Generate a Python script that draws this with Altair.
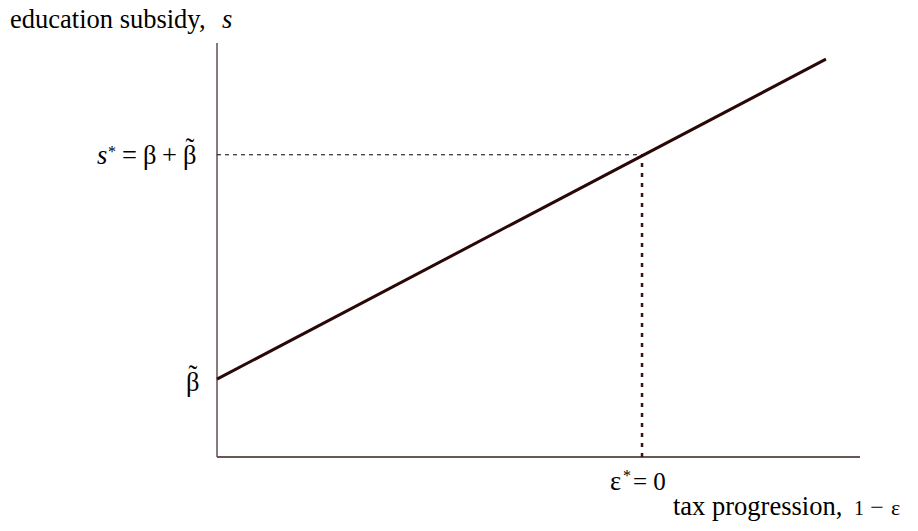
import altair as alt
import pandas as pd

# ---- data ----
line_x = [0.0, 9.47]          # tax progression, 1 - eps
line_y = [1.88, 9.61]         # education subsidy, s
beta_tilde = 1.88             # intercept
eps_star = 6.61               # x position of eps* = 0
s_star = 7.30                 # s* = beta + beta~
x_axis_end = 10.0
y_axis_top = 10.0

FONT = "'Liberation Serif', 'Times New Roman', Times, serif"
FS = 26.5
W, H = 902, 515
xs = alt.Scale(domain=[-3.2504, 10.7776], nice=False, zero=False)
ys = alt.Scale(domain=[-1.5942, 10.8454], nice=False, zero=False)

def X(f="x"):
    return alt.X(f"{f}:Q", scale=xs, axis=None)

def Y(f="y"):
    return alt.Y(f"{f}:Q", scale=ys, axis=None)

line_df = pd.DataFrame({"x": line_x, "y": line_y})
yaxis_df = pd.DataFrame({"x": [0.0], "y": [0.0], "y2": [y_axis_top]})
xaxis_df = pd.DataFrame({"x": [0.0], "x2": [x_axis_end], "y": [0.0]})
hdash_df = pd.DataFrame({"x": [0.0], "x2": [eps_star], "y": [s_star]})
vdot_df = pd.DataFrame({"x": [eps_star], "y": [0.0], "y2": [s_star]})

yaxis = alt.Chart(yaxis_df).mark_rule(color="#8a7b7b", strokeWidth=2).encode(
    x=X(), y=Y(), y2="y2:Q")
xaxis = alt.Chart(xaxis_df).mark_rule(color="#6b5656", strokeWidth=2).encode(
    x=X(), x2="x2:Q", y=Y())
hdash = alt.Chart(hdash_df).mark_rule(color="#000000", strokeWidth=1, strokeDash=[4, 4]).encode(
    x=X(), x2="x2:Q", y=Y())
vdot = alt.Chart(vdot_df).mark_rule(color="#3a1010", strokeWidth=2.5, strokeDash=[4, 6]).encode(
    x=X(), y=Y(), y2="y2:Q")
main = alt.Chart(line_df).mark_line(color="#2a0808", strokeWidth=3).encode(
    x=X(), y=Y())

def label(text, x, y, dx, dy, size=FS, align="left", italic=False, baseline="alphabetic"):
    df = pd.DataFrame({"x": [x], "y": [y], "t": [text]})
    kw = dict(font=FONT, fontSize=size, align=align, baseline=baseline,
              dx=dx, dy=dy, color="#000000")
    if italic:
        kw["fontStyle"] = "italic"
    return alt.Chart(df).mark_text(**kw).encode(x=X(), y=Y(), text="t:N")

labels = [
    label("education subsidy,", 0.0, y_axis_top, -207, -15),
    label("s", 0.0, y_axis_top, 5, -15, italic=True),
    label("s", 0.0, s_star, -120, 9, italic=True),
    label("*", 0.0, s_star, -109, 2, size=16),
    label("=", 0.0, s_star, -95, 9),
    label("\u03b2", 0.0, s_star, -74, 9),
    label("+", 0.0, s_star, -55, 9),
    label("\u03b2", 0.0, s_star, -34, 9),
    label("\u02dc", 0.0, s_star, -27, 2, align="center"),
    label("\u03b2", 0.0, beta_tilde, -31, 12),
    label("\u02dc", 0.0, beta_tilde, -24, 5, align="center"),
    label("\u03b5", eps_star, 0.0, -32, 33),
    label("*", eps_star, 0.0, -19, 24, size=16),
    label("= 0", eps_star, 0.0, -9, 33, size=25),
    label("tax progression,", x_axis_end, 0.0, -187, 58),
    label("1", x_axis_end, 0.0, -6, 58, size=20),
    label("\u2212", x_axis_end, 0.0, 17, 58, size=24, align="center"),
    label("\u03b5", x_axis_end, 0.0, 31, 58, size=22),
]

chart = alt.layer(yaxis, xaxis, hdash, vdot, main, *labels).properties(
    width=W, height=H,
    autosize=alt.AutoSizeParams(type="none"),
    padding=0,
).configure_view(stroke=None)

chart.save("out.html", embed_options={"renderer": "svg", "actions": False})
